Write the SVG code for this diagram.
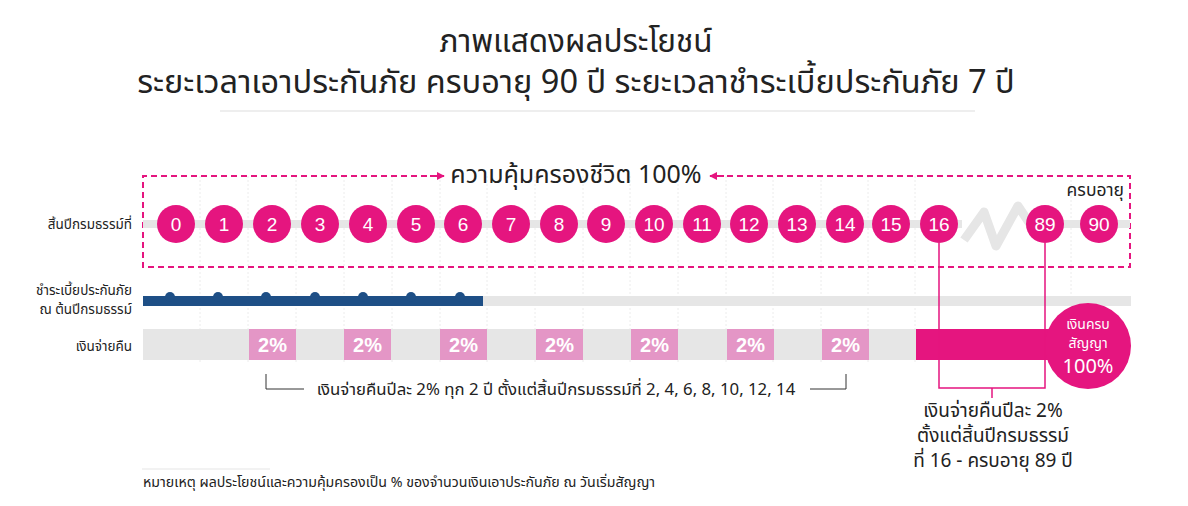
<svg xmlns="http://www.w3.org/2000/svg" width="1188" height="506" viewBox="0 0 1188 506">
<style>
text{font-family:"Noto Sans Thai","Noto Sans","Liberation Sans",sans-serif;fill:#222}
.lbl{font-size:13.5px;text-anchor:end}
.num{font-family:"Liberation Sans",Arial,sans-serif;font-size:19px;fill:#fff;text-anchor:middle}
.c{fill:#e5157f}
.pk{fill:#e496c6}
.pct{font-family:"Liberation Sans",Arial,sans-serif;font-weight:bold;font-size:20px;fill:#fff;text-anchor:middle}
.grid{stroke:#ececec;stroke-width:1;stroke-dasharray:2,2}
.mg{stroke:#e5157f;stroke-width:1.5;fill:none}
.wt{fill:#fff;text-anchor:middle}
</style>
<defs>
<marker id="ah" viewBox="0 0 10 10" refX="9" refY="5" markerWidth="4" markerHeight="4" orient="auto"><path d="M0,0 L10,5 L0,10 z" fill="#e5157f"/></marker>
</defs>
<rect width="1188" height="506" fill="#fff"/>
<g id="title">
<text x="576" y="52" font-size="31.5" text-anchor="middle">ภาพแสดงผลประโยชน์</text>
<text x="576" y="93" font-size="32.5" text-anchor="middle">ระยะเวลาเอาประกันภัย ครบอายุ 90 ปี ระยะเวลาชำระเบี้ยประกันภัย 7 ปี</text>
<line x1="220" y1="111" x2="975" y2="111" stroke="#e8e8e8" stroke-width="1.5"/>
</g>
<g id="grid">
<line class="grid" x1="200" y1="176" x2="200" y2="362"/>
<line class="grid" x1="248" y1="176" x2="248" y2="362"/>
<line class="grid" x1="296" y1="176" x2="296" y2="362"/>
<line class="grid" x1="344" y1="176" x2="344" y2="362"/>
<line class="grid" x1="392" y1="176" x2="392" y2="362"/>
<line class="grid" x1="440" y1="176" x2="440" y2="362"/>
<line class="grid" x1="487" y1="176" x2="487" y2="362"/>
<line class="grid" x1="535" y1="176" x2="535" y2="362"/>
<line class="grid" x1="583" y1="176" x2="583" y2="362"/>
<line class="grid" x1="630" y1="176" x2="630" y2="362"/>
<line class="grid" x1="678" y1="176" x2="678" y2="362"/>
<line class="grid" x1="726" y1="176" x2="726" y2="362"/>
<line class="grid" x1="773" y1="176" x2="773" y2="362"/>
<line class="grid" x1="821" y1="176" x2="821" y2="362"/>
<line class="grid" x1="868" y1="176" x2="868" y2="362"/>
<line class="grid" x1="915" y1="176" x2="915" y2="362"/>
<line class="grid" x1="1071" y1="176" x2="1071" y2="362"/>
</g>
<g id="coverage">
<path d="M437,176 L143,176 L143,267 L1130,267 L1130,176 L718,176" fill="none" stroke="#e5157f" stroke-width="2" stroke-dasharray="6,4"/>
<line x1="430" y1="176" x2="444" y2="176" stroke="#e5157f" stroke-width="2" marker-end="url(#ah)"/>
<line x1="724" y1="176" x2="710" y2="176" stroke="#e5157f" stroke-width="2" marker-end="url(#ah)"/>
<text x="576" y="183" font-size="25" text-anchor="middle">ความคุ้มครองชีวิต 100%</text>
<text x="1124" y="196" font-size="17.5" text-anchor="end">ครบอายุ</text>
</g>
<g id="timeline">
<line x1="143" y1="224" x2="962" y2="224" stroke="#e6e6e6" stroke-width="8"/>
<line x1="1026" y1="224" x2="1130" y2="224" stroke="#e6e6e6" stroke-width="8"/>
<path d="M964,240 L984,212 L996,246 L1018,206 L1030,224" fill="none" stroke="#e6e6e6" stroke-width="9" stroke-linejoin="round"/>
<text class="lbl" x="132" y="229">สิ้นปีกรมธรรม์ที่</text>
</g>
<g id="years">
<circle class="c" cx="176" cy="224" r="19"/><text class="num" x="176" y="231">0</text>
<circle class="c" cx="224" cy="224" r="19"/><text class="num" x="224" y="231">1</text>
<circle class="c" cx="272" cy="224" r="19"/><text class="num" x="272" y="231">2</text>
<circle class="c" cx="320" cy="224" r="19"/><text class="num" x="320" y="231">3</text>
<circle class="c" cx="368" cy="224" r="19"/><text class="num" x="368" y="231">4</text>
<circle class="c" cx="416" cy="224" r="19"/><text class="num" x="416" y="231">5</text>
<circle class="c" cx="463" cy="224" r="19"/><text class="num" x="463" y="231">6</text>
<circle class="c" cx="511" cy="224" r="19"/><text class="num" x="511" y="231">7</text>
<circle class="c" cx="559" cy="224" r="19"/><text class="num" x="559" y="231">8</text>
<circle class="c" cx="606" cy="224" r="19"/><text class="num" x="606" y="231">9</text>
<circle class="c" cx="654" cy="224" r="19"/><text class="num" x="654" y="231">10</text>
<circle class="c" cx="702" cy="224" r="19"/><text class="num" x="702" y="231">11</text>
<circle class="c" cx="749" cy="224" r="19"/><text class="num" x="749" y="231">12</text>
<circle class="c" cx="797" cy="224" r="19"/><text class="num" x="797" y="231">13</text>
<circle class="c" cx="845" cy="224" r="19"/><text class="num" x="845" y="231">14</text>
<circle class="c" cx="891" cy="224" r="19"/><text class="num" x="891" y="231">15</text>
<circle class="c" cx="939" cy="224" r="19"/><text class="num" x="939" y="231">16</text>
<circle class="c" cx="1045" cy="224" r="19"/><text class="num" x="1045" y="231">89</text>
<circle class="c" cx="1099" cy="224" r="19"/><text class="num" x="1099" y="231">90</text>
</g>
<g id="premium">
<text class="lbl" x="132" y="295">ชำระเบี้ยประกันภัย</text>
<text class="lbl" x="132" y="314">ณ ต้นปีกรมธรรม์</text>
<rect x="483" y="296" width="648" height="10" fill="#e6e6e6"/>
<rect x="143" y="296" width="340" height="10" fill="#1e4f86"/>
<g fill="#1e4f86">
<circle cx="170" cy="297" r="5"/><circle cx="218" cy="297" r="5"/><circle cx="266" cy="297" r="5"/><circle cx="315" cy="297" r="5"/><circle cx="363" cy="297" r="5"/><circle cx="411" cy="297" r="5"/><circle cx="460" cy="297" r="5"/>
</g>
</g>
<g id="payback">
<text class="lbl" x="132" y="351">เงินจ่ายคืน</text>
<rect x="143" y="329" width="773" height="31" fill="#e6e6e6"/>
<rect class="pk" x="249" y="329" width="47" height="31"/><text class="pct" x="272.5" y="352">2%</text>
<rect class="pk" x="344" y="329" width="47" height="31"/><text class="pct" x="367.5" y="352">2%</text>
<rect class="pk" x="440" y="329" width="47" height="31"/><text class="pct" x="463.5" y="352">2%</text>
<rect class="pk" x="536" y="329" width="47" height="31"/><text class="pct" x="559.5" y="352">2%</text>
<rect class="pk" x="631" y="329" width="47" height="31"/><text class="pct" x="654.5" y="352">2%</text>
<rect class="pk" x="727" y="329" width="47" height="31"/><text class="pct" x="750.5" y="352">2%</text>
<rect class="pk" x="822" y="329" width="47" height="31"/><text class="pct" x="845.5" y="352">2%</text>
<rect x="916" y="329" width="150" height="31" fill="#e5157f"/>
</g>
<g id="maturity">
<circle cx="1088" cy="346" r="43" fill="#e5157f"/>
<text class="wt" x="1088" y="329" font-size="14">เงินครบ</text>
<text class="wt" x="1088" y="348" font-size="14">สัญญา</text>
<text class="wt" x="1088" y="373" font-size="20">100%</text>
</g>
<g id="connectors">
<path class="mg" d="M939,243 L939,388 L1045,388 L1045,243"/>
<line class="mg" x1="992" y1="388" x2="992" y2="398"/>
<path d="M266,374 L266,389 L304,389" fill="none" stroke="#333" stroke-width="1"/>
<path d="M810,389 L846,389 L846,374" fill="none" stroke="#333" stroke-width="1"/>
</g>
<g id="notes">
<text x="556" y="395" font-size="16.8" text-anchor="middle">เงินจ่ายคืนปีละ 2% ทุก 2 ปี ตั้งแต่สิ้นปีกรมธรรม์ที่ 2, 4, 6, 8, 10, 12, 14</text>
<text x="993" y="417" font-size="19" text-anchor="middle">เงินจ่ายคืนปีละ 2%</text>
<text x="993" y="442" font-size="19" text-anchor="middle">ตั้งแต่สิ้นปีกรมธรรม์</text>
<text x="993" y="467" font-size="19" text-anchor="middle">ที่ 16 - ครบอายุ 89 ปี</text>
<line x1="142" y1="469" x2="270" y2="469" stroke="#eeeeee" stroke-width="1.5"/>
<text x="143" y="487" font-size="14.2">หมายเหตุ ผลประโยชน์และความคุ้มครองเป็น % ของจำนวนเงินเอาประกันภัย ณ วันเริ่มสัญญา</text>
</g>
</svg>
